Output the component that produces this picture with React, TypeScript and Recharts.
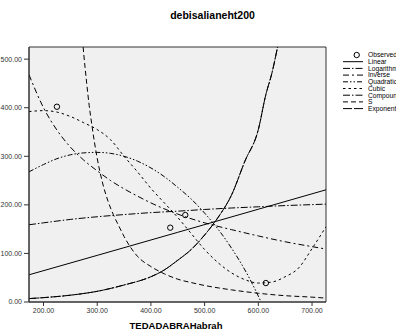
import React from 'react';
import { ComposedChart, Line, Scatter, XAxis, YAxis, CartesianGrid, ReferenceArea } from 'recharts';

const FONT = '"Liberation Sans", Arial, Helvetica, sans-serif';

const titleText = 'debisalianeht200';
const xTitle = 'TEDADABRAHabrah';
const xTicks = [200, 300, 400, 500, 600, 700];
const yTicks = [0, 100, 200, 300, 400, 500];
const xDomain = [173, 726];
const yDomain = [0, 525];

const observedX = [225, 436, 464, 614];
const observedY = [402, 153, 179, 39];

const linearX = [173, 300, 450, 600, 726];
const linearY = [56, 96, 143.5, 191, 231];

const logX = [173, 200, 250, 300, 350, 400, 450, 500, 550, 600, 650, 700, 726];
const logY = [159, 163, 170, 175.5, 180, 184, 187, 190.5, 193.5, 196, 198.5, 200.5, 201.5];

const inverseX = [173, 200, 225, 250, 275, 300, 325, 350, 375, 400, 450, 500, 550, 600, 650, 700, 726];
const inverseY = [468, 400, 354, 319, 292, 270, 250, 233, 218, 204, 181, 163, 149, 136, 124, 114, 109];

const quadX = [173, 200, 225, 250, 275, 300, 325, 350, 375, 400, 425, 450, 475, 500, 525, 550, 575, 600, 615];
const quadY = [268, 283, 295, 303, 307, 308, 306, 300, 290, 276, 258, 236, 212, 183, 150, 111, 66, 12, -25];

const cubicX = [173, 200, 225, 250, 275, 300, 325, 350, 375, 400, 425, 450, 475, 500, 525, 550, 575, 600, 625, 650, 675, 700, 726];
const cubicY = [392, 394, 391, 382, 369, 355, 334, 300, 268, 234, 204, 174, 141, 108, 81, 60, 46, 39, 41, 52, 70, 110, 155];

const compoundX = [173, 200, 250, 300, 350, 400, 425, 450, 475, 500, 525, 550, 575, 600, 614, 625, 636, 650];
const compoundY = [7, 9, 14, 22, 35, 52, 66, 86, 108, 138, 174, 220, 290, 355, 427, 470, 526, 610];

const sX = [265, 270, 275, 280, 285, 290, 295, 300, 310, 320, 330, 340, 350, 360, 375, 400, 425, 450, 475, 500, 550, 600, 650, 700, 726];
const sY = [640, 575, 510, 455, 405, 365, 328, 296, 245, 208, 180, 157, 135, 116, 94, 73, 58, 47, 40, 34, 25, 18, 13, 10, 8];

const expX = compoundX;
const expY = compoundY;

const zip = (xs: number[], ys: number[]) => xs.map((x, i) => ({ x, y: ys[i] }));

const series = [
  { name: 'Linear', data: zip(linearX, linearY), dash: undefined as string | undefined, type: 'linear' },
  { name: 'Logarithmic', data: zip(logX, logY), dash: '7 2 1.5 2', type: 'monotone' },
  { name: 'Inverse', data: zip(inverseX, inverseY), dash: '6 3 2 3', type: 'monotone' },
  { name: 'Quadratic', data: zip(quadX, quadY), dash: '5 2 1.5 2 1.5 2', type: 'monotone' },
  { name: 'Cubic', data: zip(cubicX, cubicY), dash: '2.5 3', type: 'monotone' },
  { name: 'Compound', data: zip(compoundX, compoundY), dash: '7 2 1.5 2', type: 'monotone' },
  { name: 'S', data: zip(sX, sY), dash: '5 3', type: 'monotone' },
  { name: 'Exponential', data: zip(expX, expY), dash: '9 2', type: 'monotone' },
];

const observed = zip(observedX, observedY);

const legendNames = ['Observed', 'Linear', 'Logarithmic', 'Inverse', 'Quadratic', 'Cubic', 'Compound', 'S', 'Exponential'];

const Circle = (props: any) => {
  const { cx, cy } = props;
  if (cx == null || cy == null) return null;
  return <circle cx={cx} cy={cy} r={2.7} fill="none" stroke="#000" strokeWidth={1} />;
};

export default function App() {
  const tickStyle = { fontSize: 7, fill: '#333', fontFamily: FONT };
  return (
    <div style={{ position: 'absolute', left: 0, top: 0, width: 396, height: 331, overflow: 'hidden', background: '#fff' }}>
      <ComposedChart width={396} height={331} margin={{ top: 47, right: 70, bottom: 0, left: 0 }}>
        <CartesianGrid horizontal={false} vertical={false} fill="#f0f0f0" />
        <XAxis
          type="number"
          dataKey="x"
          domain={xDomain}
          ticks={xTicks}
          allowDataOverflow
          height={29}
          tickSize={4}
          tickMargin={2}
          tick={tickStyle}
          tickFormatter={(v: number) => v.toFixed(2)}
          stroke="#333"
          interval={0}
        />
        <YAxis
          type="number"
          dataKey="y"
          domain={yDomain}
          ticks={yTicks}
          allowDataOverflow
          width={29}
          tickSize={5}
          tickMargin={2}
          tick={tickStyle}
          tickFormatter={(v: number) => v.toFixed(2)}
          stroke="#333"
          interval={0}
        />
        {series.map((s) => (
          <Line
            key={s.name}
            data={s.data}
            dataKey="y"
            name={s.name}
            type={s.type as any}
            stroke="#000"
            strokeWidth={1}
            strokeDasharray={s.dash}
            dot={false}
            activeDot={false}
            isAnimationActive={false}
          />
        ))}
        <Scatter data={observed} dataKey="y" name="Observed" shape={<Circle />} isAnimationActive={false} />
        <ReferenceArea x1={xDomain[0]} x2={xDomain[1]} y1={yDomain[0]} y2={yDomain[1]} fill="none" fillOpacity={0} stroke="#333" strokeWidth={1} />
      </ComposedChart>
      <svg width={396} height={331} style={{ position: 'absolute', left: 0, top: 0, pointerEvents: 'none' }}>
        <text x={212.5} y={19} textAnchor="middle" fontSize={10.5} fontWeight="bold" fontFamily={FONT} fill="#000">{titleText}</text>
        <text x={176} y={328.5} textAnchor="middle" fontSize={9.5} fontWeight="bold" fontFamily={FONT} fill="#000">{xTitle}</text>
        {legendNames.map((n, i) => {
          const y = 55 + i * 6.7;
          const s = series.find((q) => q.name === n);
          return (
            <g key={n}>
              {n === 'Observed' ? (
                <circle cx={356.7} cy={y} r={2.7} fill="none" stroke="#000" strokeWidth={1} />
              ) : (
                <line x1={343} x2={363} y1={y} y2={y} stroke="#000" strokeWidth={1} strokeDasharray={s ? s.dash : undefined} />
              )}
              <text x={368} y={y} dy="0.35em" fontSize={6.7} fontFamily={FONT} fill="#000">{n}</text>
            </g>
          );
        })}
      </svg>
    </div>
  );
}
